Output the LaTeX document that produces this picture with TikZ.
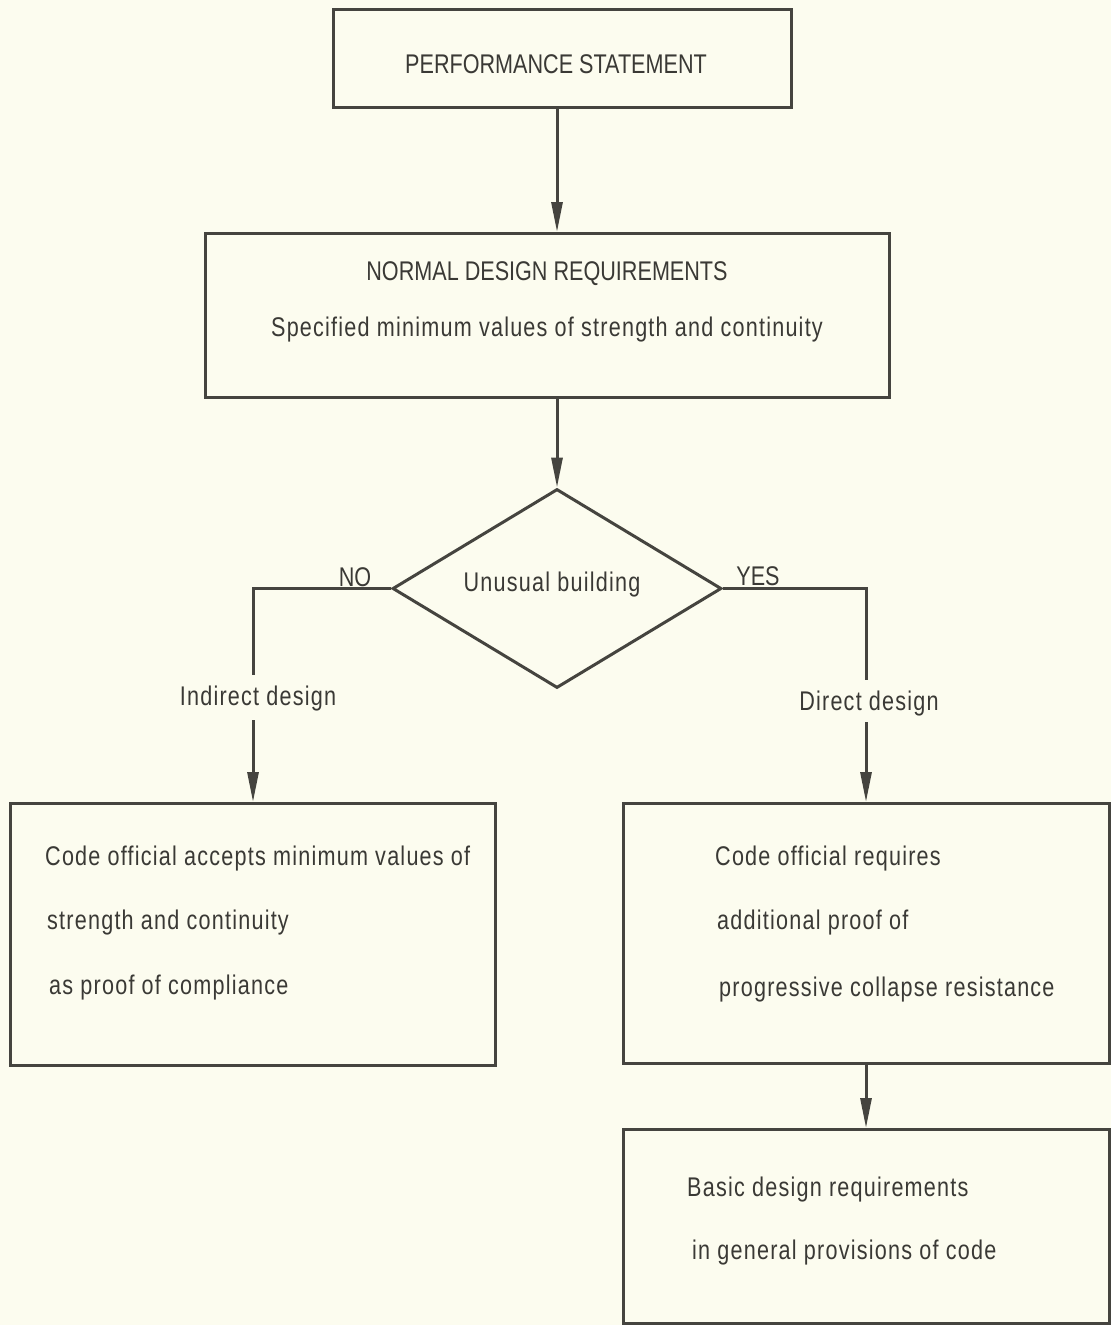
\documentclass[tikz,border=0pt]{standalone}
\usepackage{fontspec}
\setmainfont[FakeStretch=0.8]{Liberation Sans}
\newfontfamily\spacedfont[FakeStretch=0.8,LetterSpace=4.5]{Liberation Sans}
\usetikzlibrary{shapes.geometric,arrows.meta}
\definecolor{bg}{HTML}{FCFCEF}
\definecolor{ink}{HTML}{45443F}
\definecolor{txt}{HTML}{3A3935}
\tikzset{
  box/.style={draw=ink, line width=3pt, inner sep=0pt, anchor=north west},
  lbl/.style={text=txt, inner sep=0pt, yshift=-2pt, font=\fontsize{27}{32}\selectfont},
  lws/.style={text=txt, inner sep=0pt, yshift=-2pt, font=\fontsize{27}{32}\spacedfont},
  lt/.style={lws, anchor=west},
  arr/.style={draw=ink, line width=3pt, -{Triangle[length=30pt,width=11pt]}},
  ln/.style={draw=ink, line width=3pt},
}
\begin{document}
\begin{tikzpicture}[x=1pt,y=-1pt]
\fill[bg] (0,0) rectangle (1111,1325);
\useasboundingbox (0,0) rectangle (1111,1325);
% boxes
\node[box, minimum width=458pt, minimum height=98pt] (b1) at (332,8) {};
\node[box, minimum width=684pt, minimum height=164pt] (b2) at (204,232) {};
\node[draw=ink, line width=3pt, diamond, minimum width=329pt, minimum height=199pt, inner sep=0pt] (dia) at (557,588.5) {};
\node[box, minimum width=485pt, minimum height=262pt] (b3) at (9,802) {};
\node[box, minimum width=486pt, minimum height=260pt] (b4) at (622,802) {};
\node[box, minimum width=486pt, minimum height=194pt] (b5) at (622,1128) {};
% texts
\node[lbl] (t1) at (556,62) {PERFORMANCE STATEMENT};
\node[lbl] (t2) at (547,272) {NORMAL DESIGN REQUIREMENTS};
\node[lws] (t3) at (547,328) {Specified minimum values of strength and continuity};
\node[lws] (t4) at (552,583) {Unusual building};
\node[lbl] (no) at (355,575) {NO};
\node[lbl] (yes) at (758,574) {YES};
\node[lws] (ind) at (258,697) {Indirect design};
\node[lws] (dir) at (869,702) {Direct design};
\node[lt] (l1) at (45,857) {Code official accepts minimum values of};
\node[lt] (l2) at (47,921) {strength and continuity};
\node[lt] (l3) at (49,986) {as proof of compliance};
\node[lt] (r1) at (715,857) {Code official requires};
\node[lt] (r2) at (717,921) {additional proof of};
\node[lt] (r3) at (719,988) {progressive collapse resistance};
\node[lt] (s1) at (687,1188) {Basic design requirements};
\node[lt] (s2) at (692,1251) {in general provisions of code};
% connectors
\coordinate (nodown) at (253,675);
\coordinate (noarr) at (253,720);
\coordinate (yesdown) at (866,680);
\coordinate (yesarr) at (866,722);
\draw[arr] (b1.south -| dia.north) -- (b2.north -| dia.north);
\draw[arr] (b2.south -| dia.north) -- (dia.north);
\draw[ln] (dia.west) -| (nodown);
\draw[arr] (noarr) -- (b3.north -| noarr);
\draw[ln] (dia.east) -| (yesdown);
\draw[arr] (yesarr) -- (b4.north -| yesarr);
\draw[arr] (b4.south -| yesarr) -- (b5.north -| yesarr);
\end{tikzpicture}
\end{document}
